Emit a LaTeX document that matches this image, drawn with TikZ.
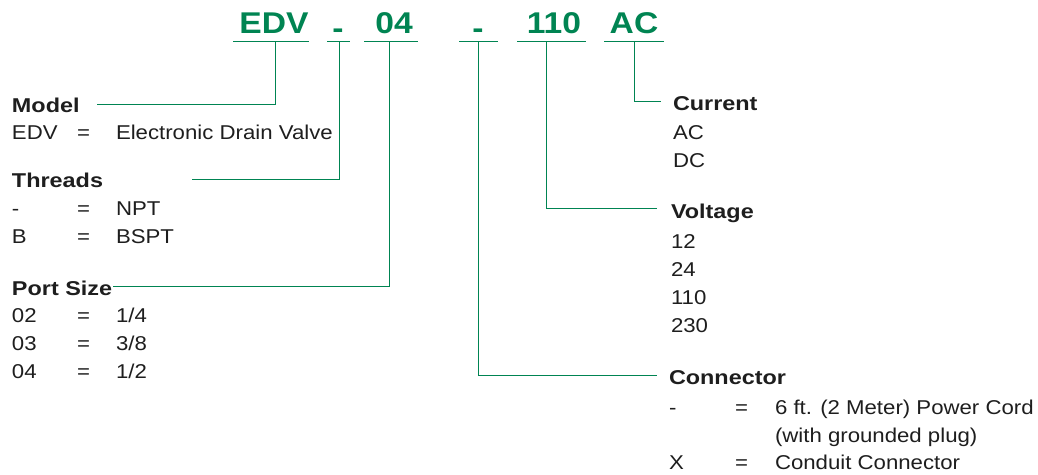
\documentclass[tikz,border=0pt]{standalone}
\usepackage{fontspec}
\setmainfont{Liberation Sans}
\newfontfamily\bodyfont[FakeStretch=1.11]{Liberation Sans}
\newfontfamily\headfont[FakeStretch=1.17]{Liberation Sans}
\newfontfamily\codefont[FakeStretch=1.12]{Liberation Sans}
\definecolor{codegreen}{RGB}{0,132,82}
\definecolor{ink}{RGB}{30,30,30}
\begin{document}
\begin{tikzpicture}[x=1pt,y=-1pt,
  every node/.style={inner sep=0pt,outer sep=0pt},
  code/.style={font=\codefont\bfseries\fontsize{30}{34}\selectfont,text=codegreen,anchor=base},
  head/.style={font=\headfont\bfseries\fontsize{20}{24}\selectfont,text=ink,anchor=base west},
  body/.style={font=\bodyfont\fontsize{20}{24}\selectfont,text=ink,anchor=base west},
  lead/.style={draw=codegreen,line width=1pt},
  uline/.style={draw=codegreen,line width=1pt}]
\useasboundingbox (0,0) rectangle (1038,474);

% ---- code line ----
\node[code] (cEDV) at (274,33) {EDV};
\node[code] (cD1)  at (338,38) {-};
\node[code] (c04)  at (394,33) {04};
\node[code] (cD2)  at (478,38) {-};
\node[code] (c110) at (554,33) {110};
\node[code] (cAC)  at (634,33) {AC};

\draw[uline] (233,41) -- (309,41);
\draw[uline] (327,41) -- (350,41);
\draw[uline] (364,41) -- (418,41);
\draw[uline] (459,41) -- (498,41);
\draw[uline] (517,41) -- (586,41);
\draw[uline] (604,41) -- (664,41);

\coordinate (uEDV) at (275,41);
\coordinate (uD1)  at (339,41);
\coordinate (u04)  at (389,41);
\coordinate (uD2)  at (478,41);
\coordinate (u110) at (546,41);
\coordinate (uAC)  at (634,41);

% ---- left blocks ----
\node[head] (hModel) at (12,112) {Model};
\node[body] (mk1) at (12,139) {EDV};
\node[body] (me1) at (77,139) {=};
\node[body] (mv1) at (116,139) {Electronic Drain Valve};

\node[head] (hThreads) at (12,187) {Threads};
\node[body] (tk1) at (12,215) {-};
\node[body] (te1) at (77,215) {=};
\node[body] (tv1) at (116,215) {NPT};
\node[body] (tk2) at (12,243) {B};
\node[body] (te2) at (77,243) {=};
\node[body] (tv2) at (116,243) {BSPT};

\node[head] (hPort) at (12,295) {Port Size};
\node[body] (pk1) at (12,322) {02};
\node[body] (pe1) at (77,322) {=};
\node[body] (pv1) at (116,322) {1/4};
\node[body] (pk2) at (12,350) {03};
\node[body] (pe2) at (77,350) {=};
\node[body] (pv2) at (116,350) {3/8};
\node[body] (pk3) at (12,378) {04};
\node[body] (pe3) at (77,378) {=};
\node[body] (pv3) at (116,378) {1/2};

% ---- right blocks ----
\node[head] (hCurrent) at (673,110) {Current};
\node[body] (ca) at (673,139) {AC};
\node[body] (cd) at (673,167) {DC};

\node[head] (hVoltage) at (671,218) {Voltage};
\node[body] (v1) at (671,248) {12};
\node[body] (v2) at (671,276) {24};
\node[body] (v3) at (671,304) {110};
\node[body] (v4) at (671,332) {230};

\node[head] (hConn) at (669,384) {Connector};
\node[body] (nk1) at (669,414) {-};
\node[body] (ne1) at (735,414) {=};
\node[body] (nv1) at (775,414) {6 ft. (2 Meter) Power Cord};
\node[body] (nv1b) at (775,442) {(with grounded plug)};
\node[body] (nk2) at (669,469) {X};
\node[body] (ne2) at (735,469) {=};
\node[body] (nv2) at (775,469) {Conduit Connector};

% ---- leader ends ----
\coordinate (eModel) at (97,104);
\coordinate (eThreads) at (192,179);
\coordinate (ePort) at (113,286);
\coordinate (eCurrent) at (661,101);
\coordinate (eVoltage) at (657,208);
\coordinate (eConn) at (657,375);

\draw[lead] (uEDV) |- (eModel);
\draw[lead] (uD1) |- (eThreads);
\draw[lead] (u04) |- (ePort);
\draw[lead] (uAC) |- (eCurrent);
\draw[lead] (u110) |- (eVoltage);
\draw[lead] (uD2) |- (eConn);
\end{tikzpicture}
\end{document}
